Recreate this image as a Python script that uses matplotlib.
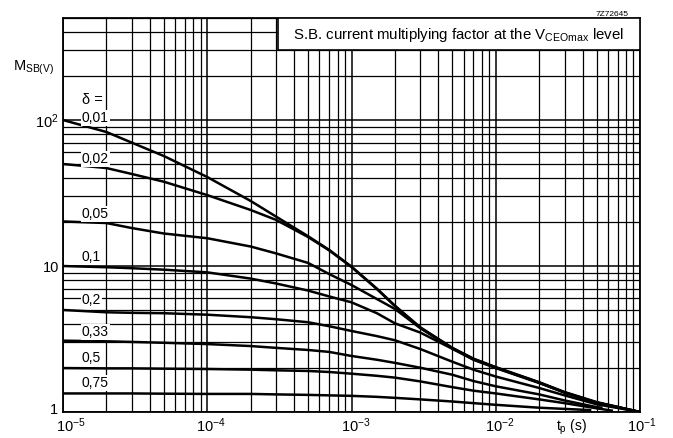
import matplotlib
matplotlib.use('Agg')
import matplotlib.pyplot as plt
from matplotlib.patches import Rectangle
from matplotlib.ticker import LogLocator, NullFormatter
from matplotlib.transforms import ScaledTranslation

plt.rcParams['font.family'] = ['Liberation Sans', 'DejaVu Sans']
plt.rcParams['mathtext.fontset'] = 'custom'
plt.rcParams['mathtext.rm'] = 'Liberation Sans'
plt.rcParams['mathtext.it'] = 'Liberation Sans:italic'
plt.rcParams['mathtext.default'] = 'regular'

# pulse time (s)
tp = [1e-5, 2e-5, 3e-5, 5e-5, 1e-4, 2e-4, 3e-4, 5e-4, 7e-4, 1e-3,
      1.5e-3, 2e-3, 3e-3, 5e-3, 7e-3, 1e-2, 2e-2, 3e-2, 5e-2, 1e-1]

# multiplying factor for each duty factor
m_001 = [100, 82.8, 70.0, 56.7, 40.7, 27.9, 21.8, 16.0, 12.9, 9.9,
         7.0, 5.35, 3.8, 2.75, 2.32, 2.03, 1.60, 1.37, 1.17, 1.0]
m_002 = [50.0, 46.9, 42.7, 37.8, 30.6, 24.2, 20.7, 15.8, 12.8, 9.85,
         6.95, 5.32, 3.78, 2.74, 2.31, 2.02, 1.59, 1.36, 1.16, 1.0]
m_005 = [20.2, 19.7, 18.2, 16.7, 15.5, 13.6, 12.2, 10.5, 8.81, 7.41,
         5.94, 5.08, 3.75, 2.73, 2.30, 2.01, 1.59, 1.36, 1.16, 1.0]
m_01 = [10.0, 9.81, 9.66, 9.44, 9.05, 8.20, 7.59, 6.79, 6.19, 5.64,
        4.75, 4.05, 3.50, 2.71, 2.28, 2.0, 1.58, 1.36, 1.16, 1.0]
m_02 = [5.0, 4.82, 4.78, 4.75, 4.64, 4.46, 4.32, 4.12, 3.87, 3.59,
        3.31, 3.10, 2.70, 2.21, 1.95, 1.75, 1.46, 1.30, 1.13, 1.0]
m_033 = [3.08, 3.05, 3.02, 2.98, 2.92, 2.83, 2.75, 2.66, 2.58, 2.42,
         2.28, 2.17, 2.01, 1.80, 1.63, 1.50, 1.32, 1.20, 1.08]
m_05 = [2.0, 1.99, 1.99, 1.98, 1.97, 1.95, 1.93, 1.91, 1.88, 1.83,
        1.77, 1.72, 1.62, 1.48, 1.40, 1.34, 1.22, 1.15, 1.06]
m_075 = [1.34, 1.34, 1.34, 1.335, 1.33, 1.33, 1.32, 1.31, 1.30, 1.29,
         1.27, 1.25, 1.22, 1.18, 1.15, 1.12, 1.07, 1.05]

# last points of the curves that stop short of 0.1 s
end_tp = [5.5e-2, 6.5e-2, 4.6e-2]
end_m = [1.07, 1.02, 1.03]

curves = [m_001, m_002, m_005, m_01, m_02, m_033, m_05, m_075]
labels = ['0,01', '0,02', '0,05', '0,1', '0,2', '0,33', '0,5', '0,75']
label_y_px = [118, 159, 214, 257, 300, 332, 358, 383]

W, H = 673, 438
fig = plt.figure(figsize=(W / 100, H / 100), dpi=100)
fig.patch.set_facecolor('white')
ax = fig.add_axes([63 / W, 26 / H, 577 / W, 394 / H])
ax.set_xscale('log')
ax.set_yscale('log')
ax.set_xlim(1e-5, 1e-1)
ax.set_ylim(1, 500)

# full decade grid like printed log paper
ax.xaxis.set_minor_locator(LogLocator(base=10, subs=range(2, 10)))
ax.yaxis.set_minor_locator(LogLocator(base=10, subs=range(2, 10)))
ax.xaxis.set_minor_formatter(NullFormatter())
ax.yaxis.set_minor_formatter(NullFormatter())
ax.grid(which='major', color='black', linewidth=1.1)
ax.grid(which='minor', color='black', linewidth=0.9)
ax.tick_params(which='both', length=0, labelsize=10.5)
ax.tick_params(axis='x', pad=3)
ax.tick_params(axis='y', pad=3)

ax.set_xticks([1e-5, 1e-4, 1e-3, 1e-2, 1e-1])
ax.set_xticklabels([r'$10^{-5}$', r'$10^{-4}$', r'$10^{-3}$', r'$10^{-2}$', r'$10^{-1}$'])
ax.set_yticks([1, 10, 100])
ax.set_yticklabels(['1', '10', r'$10^2$'])

# the printed labels sit a little off their lines
for lab, dx in zip(ax.get_xticklabels(), [8, 4, 4, 4, 2]):
    lab.set_transform(lab.get_transform() + ScaledTranslation(dx / 100, 0, fig.dpi_scale_trans))
first_y = ax.get_yticklabels()[0]
first_y.set_transform(first_y.get_transform() + ScaledTranslation(-1 / 100, 3 / 100, fig.dpi_scale_trans))

for sp in ax.spines.values():
    sp.set_linewidth(1.3)
    sp.set_color('black')

# draw the curves
for i, m in enumerate(curves):
    x = tp[:len(m)]
    y = list(m)
    if len(m) < len(tp):
        k = i - 5
        x = x + [end_tp[k]]
        y = y + [end_m[k]]
    ax.plot(x, y, color='black', linewidth=1.8, solid_capstyle='butt',
            solid_joinstyle='round', zorder=3)

# curve labels
for lab, ypx in zip(labels, label_y_px):
    fig.text(82 / W, 1 - ypx / H, lab, fontsize=10, ha='left', va='center',
             bbox=dict(facecolor='white', edgecolor='none', pad=0.5), zorder=5)

fig.text(82 / W, 1 - 100 / H, 'δ =', fontsize=10.5, ha='left', va='center',
         bbox=dict(facecolor='white', edgecolor='none', pad=0.5), zorder=5)

# title box in the top right corner
box = Rectangle((3.1e-4, 300), 1e-1 - 3.1e-4, 200, facecolor='white',
                edgecolor='black', linewidth=1.2, zorder=4)
ax.add_patch(box)
ax.text(0.686, 0.957, r'S.B. current multiplying factor at the V$_{\mathrm{CEOmax}}$ level',
        transform=ax.transAxes, ha='center', va='center', fontsize=10.8, zorder=6)

fig.text(13 / W, 1 - 68 / H, r'M$_{\mathrm{SB(V)}}$', fontsize=10.5, ha='left', va='center')
fig.text(571 / W, 1 - 427 / H, r't$_{\mathrm{p}}$ (s)', fontsize=10, ha='center', va='center')
fig.text(612 / W, 1 - 14 / H, '7Z72645', fontsize=6, ha='center', va='center')

fig.savefig('out.png', dpi=100, facecolor='white')
